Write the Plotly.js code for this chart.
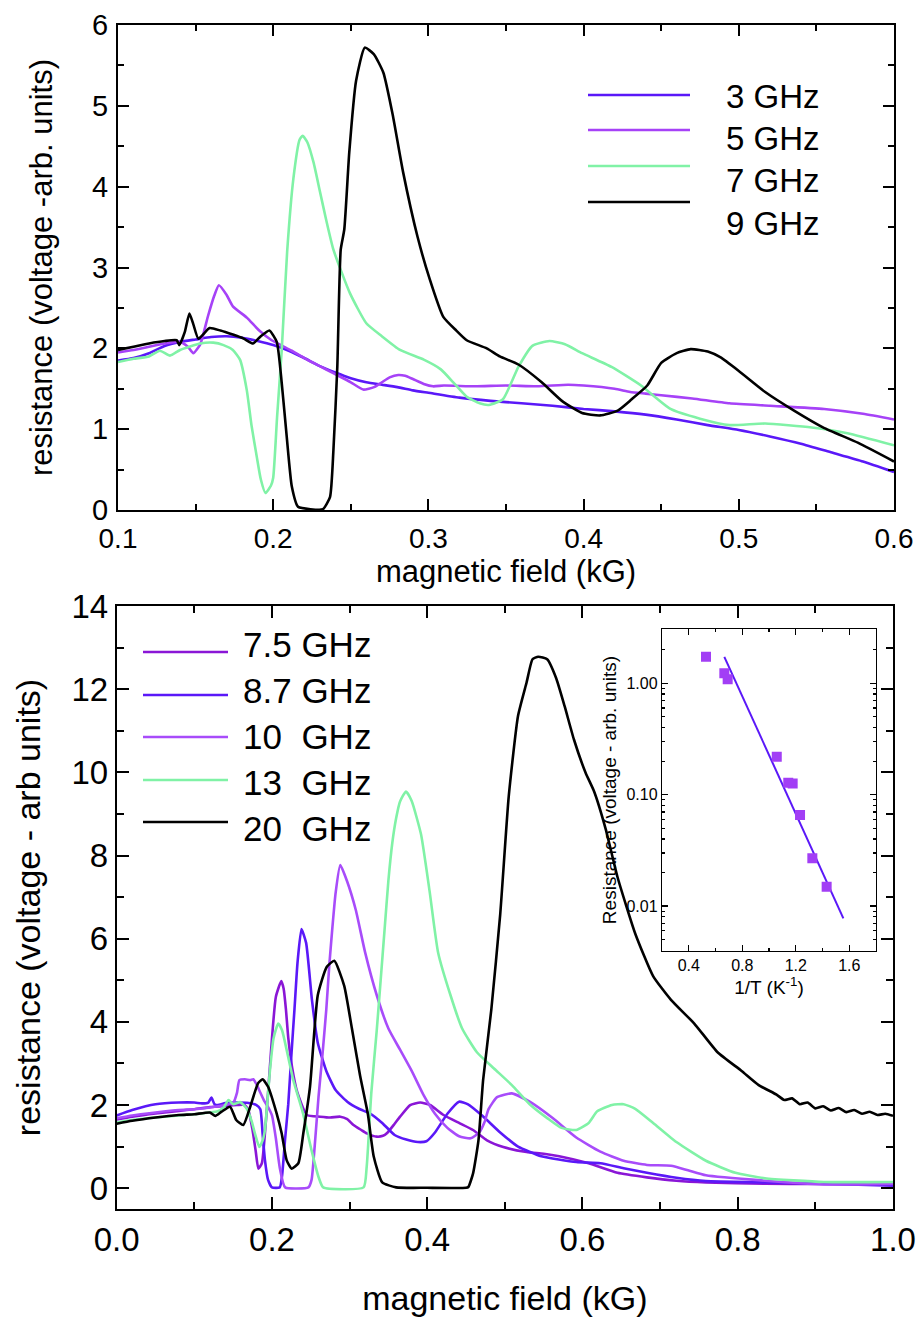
<!DOCTYPE html>
<html>
<head>
<meta charset="utf-8">
<script src="https://cdn.plot.ly/plotly-3.0.1.min.js"></script>
<style>html,body{margin:0;padding:0;background:#fff;}#chart{width:922px;height:1326px;}</style>
</head>
<body>
<div id="chart"></div>
<script>
// ---------- TOP PANEL DATA (magnetic field kG vs resistance) ----------
const topNames = ['3 GHz', '5 GHz', '7 GHz', '9 GHz'];
const x3 = [0.10,0.11,0.12,0.13,0.14,0.15,0.16,0.17,0.18,0.19,0.20,0.21,0.22,0.23,0.24,0.25,0.26,0.27,0.28,0.29,0.30,0.32,0.34,0.36,0.38,0.40,0.42,0.44,0.46,0.48,0.50,0.52,0.54,0.56,0.58,0.60];
const y3 = [1.85,1.88,1.94,2.03,2.08,2.11,2.14,2.15,2.13,2.09,2.04,1.97,1.88,1.78,1.70,1.63,1.58,1.55,1.52,1.48,1.45,1.39,1.35,1.32,1.29,1.25,1.22,1.18,1.12,1.05,0.99,0.91,0.82,0.71,0.60,0.47];
const x5 = [0.10,0.11,0.12,0.13,0.14,0.145,0.1485,0.153,0.158,0.162,0.165,0.170,0.174,0.183,0.191,0.199,0.206,0.212,0.22,0.23,0.239,0.25,0.258,0.265,0.27,0.275,0.2806,0.285,0.29,0.297,0.303,0.31,0.33,0.35,0.37,0.39,0.40,0.42,0.43,0.44,0.45,0.47,0.494,0.52,0.555,0.58,0.60];
const y5 = [1.95,1.98,2.02,2.06,2.08,2.02,1.94,2.05,2.40,2.65,2.78,2.66,2.52,2.38,2.22,2.10,2.03,1.97,1.88,1.78,1.69,1.58,1.49,1.52,1.58,1.64,1.67,1.66,1.62,1.56,1.53,1.54,1.53,1.54,1.53,1.55,1.54,1.50,1.46,1.44,1.42,1.38,1.32,1.29,1.25,1.19,1.12];
const x7 = [0.10,0.11,0.12,0.127,0.1335,0.14,0.153,0.1614,0.168,0.174,0.1786,0.183,0.186,0.1894,0.192,0.195,0.1985,0.2,0.2025,0.2055,0.209,0.213,0.217,0.219,0.222,0.226,0.23,0.234,0.2388,0.2495,0.26,0.27,0.2817,0.297,0.308,0.316,0.3247,0.333,0.339,0.348,0.358,0.367,0.378,0.388,0.399,0.418,0.437,0.456,0.475,0.494,0.517,0.547,0.57,0.60];
const y7 = [1.83,1.87,1.90,1.97,1.91,1.98,2.06,2.07,2.04,1.98,1.86,1.48,1.05,0.66,0.38,0.21,0.30,0.40,1.15,1.98,3.20,4.10,4.58,4.63,4.55,4.30,3.95,3.60,3.22,2.68,2.31,2.15,1.98,1.86,1.74,1.58,1.40,1.32,1.30,1.37,1.77,2.03,2.09,2.05,1.94,1.77,1.54,1.25,1.13,1.05,1.07,1.02,0.95,0.80];
const x9 = [0.10,0.11,0.12,0.13,0.1378,0.1395,0.143,0.146,0.1485,0.1518,0.159,0.166,0.174,0.181,0.187,0.1915,0.1975,0.2023,0.2055,0.2087,0.212,0.216,0.224,0.232,0.2366,0.2388,0.2413,0.2435,0.2458,0.249,0.2534,0.259,0.2648,0.271,0.277,0.2837,0.293,0.3008,0.3096,0.318,0.3247,0.3376,0.346,0.358,0.373,0.386,0.399,0.4106,0.422,0.431,0.441,0.45,0.46,0.469,0.48,0.488,0.50,0.517,0.5356,0.5545,0.577,0.60];
const y9 = [1.98,2.02,2.06,2.09,2.10,2.04,2.20,2.43,2.30,2.12,2.25,2.22,2.17,2.12,2.06,2.14,2.22,2.08,1.57,0.91,0.29,0.04,0.01,0.01,0.16,0.74,1.77,3.22,3.47,4.42,5.31,5.72,5.64,5.41,4.89,4.18,3.38,2.86,2.39,2.22,2.10,2.00,1.90,1.80,1.58,1.35,1.20,1.17,1.23,1.37,1.54,1.82,1.94,1.99,1.96,1.89,1.72,1.46,1.23,1.02,0.83,0.60];

// ---------- BOTTOM PANEL DATA ----------
const botNames = ['7.5 GHz', '8.7 GHz', '10\u00a0 GHz', '13\u00a0 GHz', '20\u00a0 GHz'];
const x75 = [0,0.02,0.05,0.08,0.1,0.12,0.14,0.155,0.165,0.17,0.175,0.179,0.1825,0.187,0.19,0.195,0.2,0.205,0.212,0.215,0.218,0.221,0.226,0.2326,0.245,0.262,0.275,0.288,0.297,0.305,0.315,0.322,0.335,0.343,0.348,0.358,0.365,0.378,0.391,0.4036,0.421,0.442,0.459,0.477,0.498,0.528,0.55,0.57,0.608,0.645,0.683,0.721,0.759,0.835,0.9,1.0];
const y75 = [1.65,1.72,1.80,1.86,1.90,1.95,1.98,2.00,2.00,1.85,1.40,0.90,0.47,0.60,1.10,2.30,3.60,4.60,4.98,4.80,4.30,3.62,2.90,2.31,1.76,1.72,1.70,1.72,1.66,1.52,1.40,1.32,1.24,1.26,1.32,1.55,1.72,2.00,2.06,2.00,1.76,1.56,1.40,1.15,0.99,0.87,0.83,0.77,0.60,0.37,0.26,0.18,0.14,0.11,0.10,0.09];
const x87 = [0,0.02,0.05,0.08,0.1,0.11,0.118,0.122,0.126,0.13,0.14,0.15,0.17,0.18,0.185,0.188,0.191,0.195,0.2,0.21,0.213,0.217,0.221,0.225,0.229,0.233,0.238,0.244,0.2515,0.259,0.27,0.282,0.297,0.312,0.327,0.342,0.358,0.373,0.388,0.399,0.41,0.426,0.441,0.452,0.471,0.494,0.517,0.547,0.592,0.623,0.653,0.683,0.721,0.759,0.835,0.911,1.0];
const y87 = [1.75,1.88,2.02,2.06,2.06,2.04,2.06,2.18,2.02,2.00,2.05,2.06,2.05,2.00,1.90,1.30,0.67,0.20,0.02,0.02,0.30,1.20,2.02,3.20,4.30,5.44,6.23,5.90,4.53,3.50,2.82,2.36,2.08,1.91,1.79,1.57,1.28,1.17,1.11,1.13,1.34,1.79,2.08,2.02,1.74,1.34,1.00,0.77,0.63,0.60,0.48,0.37,0.25,0.17,0.14,0.11,0.06];
const x10 = [0,0.02,0.05,0.08,0.1,0.12,0.14,0.15,0.155,0.158,0.165,0.172,0.176,0.18,0.185,0.19,0.195,0.2,0.205,0.21,0.217,0.247,0.251,0.255,0.26,0.265,0.27,0.274,0.278,0.282,0.288,0.297,0.308,0.32,0.335,0.35,0.365,0.38,0.395,0.41,0.426,0.441,0.456,0.467,0.474,0.479,0.49,0.509,0.532,0.562,0.592,0.623,0.653,0.683,0.714,0.736,0.759,0.835,0.911,1.0];
const y10 = [1.68,1.75,1.82,1.88,1.90,1.94,2.00,2.05,2.30,2.60,2.62,2.60,2.62,2.50,2.30,2.10,1.95,1.75,1.20,0.50,0.02,0.02,0.20,1.00,2.20,3.20,4.30,5.40,6.30,7.10,7.77,7.37,6.69,5.67,4.64,3.84,3.33,2.82,2.25,1.79,1.45,1.25,1.20,1.34,1.60,1.90,2.19,2.28,2.08,1.68,1.22,0.88,0.66,0.56,0.54,0.43,0.31,0.18,0.09,0.10];
const x13 = [0,0.02,0.05,0.08,0.1,0.12,0.13,0.138,0.144,0.15,0.159,0.168,0.174,0.178,0.1837,0.188,0.191,0.1975,0.202,0.208,0.213,0.219,0.2275,0.24,0.251,0.26,0.266,0.318,0.322,0.328,0.335,0.34,0.345,0.35,0.355,0.36,0.365,0.3727,0.38,0.392,0.403,0.414,0.43,0.445,0.464,0.486,0.509,0.532,0.555,0.573,0.592,0.608,0.619,0.638,0.653,0.668,0.691,0.721,0.759,0.797,0.835,0.911,1.0];
const y13 = [1.58,1.64,1.70,1.75,1.78,1.82,1.85,1.95,2.12,2.02,2.07,1.90,1.60,1.32,0.99,1.15,1.41,2.85,3.60,3.96,3.80,3.32,2.60,1.80,0.91,0.27,0.02,0.02,0.51,2.30,3.80,5.00,6.20,7.40,8.30,8.90,9.30,9.54,9.31,8.51,7.15,5.67,4.64,3.84,3.27,2.88,2.48,2.02,1.68,1.45,1.40,1.57,1.85,2.00,2.02,1.91,1.57,1.11,0.66,0.37,0.24,0.15,0.15];
const x20 = [0,0.02,0.05,0.08,0.1,0.12,0.127,0.135,0.146,0.154,0.163,0.172,0.182,0.188,0.195,0.206,0.2125,0.219,0.2254,0.234,0.2404,0.249,0.259,0.2705,0.2803,0.293,0.303,0.3136,0.3235,0.331,0.342,0.36,0.40,0.45,0.453,0.459,0.466,0.472,0.4826,0.494,0.505,0.517,0.528,0.5356,0.543,0.5545,0.566,0.577,0.589,0.604,0.615,0.63,0.645,0.668,0.691,0.714,0.744,0.774,0.805,0.827,0.85,0.86,0.87,0.88,0.89,0.90,0.91,0.92,0.93,0.94,0.95,0.96,0.97,0.98,0.99,1.0];
const y20 = [1.55,1.62,1.70,1.76,1.78,1.82,1.74,1.84,1.96,1.64,1.52,1.96,2.52,2.62,2.44,1.80,1.32,0.67,0.47,0.60,1.32,2.44,4.64,5.32,5.47,4.87,3.84,2.70,1.79,0.77,0.14,0.02,0.01,0.01,0.03,0.35,1.15,2.60,4.30,6.58,9.42,11.36,12.16,12.72,12.78,12.72,12.27,11.59,10.79,9.99,9.54,8.63,7.49,6.12,5.10,4.53,3.96,3.27,2.82,2.48,2.25,2.12,2.16,2.02,2.06,1.92,1.97,1.87,1.93,1.83,1.88,1.79,1.84,1.76,1.79,1.74];

// ---------- INSET DATA (1/T vs resistance, log) ----------
const invT = [0.529,0.666,0.691,1.058,1.144,1.177,1.232,1.324,1.431];
const resist = [1.73,1.23,1.09,0.219,0.128,0.126,0.0657,0.0268,0.0149];
const fitX = [0.666,1.556];
const fitY = [1.73,0.00776];
const insetMajorTicks = [0.01, 0.1, 1];
const insetMajorText = ['0.01', '0.10', '1.00'];

// ---------- STYLE ----------
const topColors = ['#5a18f8', '#a642f7', '#80f2a6', '#000000'];
const botColors = ['#8a16d6', '#5a18f8', '#a84cfa', '#80f2a6', '#000000'];
const FONT = 'Liberation Sans, Arial, Helvetica, sans-serif';
const W = 922, H = 1326;
const px = v => v / W;
const py = v => 1 - v / H;

// log minor tick positions (2..9 per decade) for the inset
const logMinor = [];
[0.001, 0.01, 0.1, 1].forEach(d => { for (let k = 2; k <= 9; k++) logMinor.push(+(d * k).toPrecision(3)); });

const LINE = (c) => ({color: c, width: 2.6, shape: 'spline', smoothing: 0.5});
const traces = [];
const topX = [x3, x5, x7, x9], topY = [y3, y5, y7, y9];
topNames.forEach((n, i) => traces.push({x: topX[i], y: topY[i], name: n, type: 'scatter', mode: 'lines',
  line: LINE(topColors[i]), xaxis: 'x', yaxis: 'y', showlegend: false}));
const botX = [x75, x87, x10, x13, x20], botY = [y75, y87, y10, y13, y20];
botNames.forEach((n, i) => traces.push({x: botX[i], y: botY[i], name: n, type: 'scatter', mode: 'lines',
  line: LINE(botColors[i]), xaxis: 'x2', yaxis: 'y2', showlegend: false}));
traces.push({x: fitX, y: fitY, name: 'fit', type: 'scatter', mode: 'lines', line: {color: '#5a18f8', width: 2},
  xaxis: 'x3', yaxis: 'y3', showlegend: false});
traces.push({x: invT, y: resist, name: 'data', type: 'scatter', mode: 'markers',
  marker: {symbol: 'square', size: 10, color: '#a23ef5'}, xaxis: 'x3', yaxis: 'y3', showlegend: false});

function ax(o) {
  return Object.assign({
    showline: true, linecolor: '#000', linewidth: 2, mirror: 'allticks',
    ticks: 'inside', tickcolor: '#000', tickwidth: 2, showgrid: false, zeroline: false,
    automargin: false, fixedrange: true
  }, o);
}

// legend (drawn as layout shapes + text)
const shapes = [], annotations = [];
const topLegLineY = [95, 130, 166, 202], topLegTextY = [97, 139, 181, 223];
topNames.forEach((n, i) => {
  shapes.push({type: 'line', xref: 'paper', yref: 'paper', x0: px(588), x1: px(690),
    y0: py(topLegLineY[i]), y1: py(topLegLineY[i]), line: {color: topColors[i], width: 2.6}});
  annotations.push({xref: 'paper', yref: 'paper', x: px(724), y: py(topLegTextY[i]), text: n,
    showarrow: false, xanchor: 'left', yanchor: 'middle', font: {family: FONT, size: 33, color: '#000'}});
});
const botLegLineY = [652, 695, 737, 780, 822], botLegTextY = [644, 690, 736, 782, 828];
botNames.forEach((n, i) => {
  shapes.push({type: 'line', xref: 'paper', yref: 'paper', x0: px(143), x1: px(228),
    y0: py(botLegLineY[i]), y1: py(botLegLineY[i]), line: {color: botColors[i], width: 2.6}});
  annotations.push({xref: 'paper', yref: 'paper', x: px(241), y: py(botLegTextY[i]), text: n,
    showarrow: false, xanchor: 'left', yanchor: 'middle', font: {family: FONT, size: 35, color: '#000'}});
});

const layout = {
  width: W, height: H, margin: {l: 0, r: 0, t: 0, b: 0},
  paper_bgcolor: '#fff', plot_bgcolor: 'rgba(0,0,0,0)',
  font: {family: FONT, color: '#000'},
  showlegend: false,
  xaxis: ax({domain: [px(118), px(894)], range: [0.1, 0.6], anchor: 'y', tick0: 0.1, dtick: 0.1, tickformat: '.1f',
    ticklen: 11, minor: {dtick: 0.05, ticks: 'inside', ticklen: 6, tickwidth: 2, tickcolor: '#000'},
    tickfont: {size: 28}, ticklabelstandoff: 2, title: {text: 'magnetic field (kG)', font: {size: 31}, standoff: 8}}),
  yaxis: ax({domain: [py(510), py(25)], range: [0, 6], anchor: 'x', dtick: 1,
    ticklen: 11, minor: {dtick: 0.5, ticks: 'inside', ticklen: 6, tickwidth: 2, tickcolor: '#000'},
    tickfont: {size: 29}, ticklabelstandoff: 2, title: {text: 'resistance (voltage -arb. units)', font: {size: 31}, standoff: 30}}),
  xaxis2: ax({domain: [px(116.7), px(893)], range: [0, 1], anchor: 'y2', tick0: 0, dtick: 0.2, tickformat: '.1f',
    ticklen: 12, minor: {dtick: 0.1, ticks: 'inside', ticklen: 7, tickwidth: 2, tickcolor: '#000'},
    tickfont: {size: 33}, title: {text: 'magnetic field (kG)', font: {size: 34}, standoff: 30}}),
  yaxis2: ax({domain: [py(1209), py(606)], range: [-0.5, 14], anchor: 'x2', tick0: 0, dtick: 2,
    ticklen: 12, minor: {dtick: 1, ticks: 'inside', ticklen: 7, tickwidth: 2, tickcolor: '#000'},
    tickfont: {size: 33}, title: {text: 'resistance (voltage - arb units)', font: {size: 34}, standoff: 20}}),
  xaxis3: ax({domain: [px(662), px(876)], range: [0.2, 1.8], anchor: 'y3', tick0: 0.4, dtick: 0.4, tickformat: '.1f',
    linewidth: 1.2, tickwidth: 1.2, ticklen: 6, minor: {dtick: 0.2, ticks: 'inside', ticklen: 3, tickwidth: 1.2, tickcolor: '#000'},
    tickfont: {size: 16}, title: {text: '1/T (K<sup>-1</sup>)', font: {size: 19}, standoff: 2}}),
  yaxis3: ax({domain: [py(950.7), py(629.3)], type: 'log', range: [-2.401, 0.485], anchor: 'x3',
    tickmode: 'array', tickvals: insetMajorTicks, ticktext: insetMajorText,
    linewidth: 1.2, tickwidth: 1.2, ticklen: 6,
    minor: {tickmode: 'array', tickvals: logMinor, ticks: 'inside', ticklen: 3, tickwidth: 1.2, tickcolor: '#000'},
    tickfont: {size: 16}, title: {text: 'Resistance (voltage - arb. units)', font: {size: 19}, standoff: 4}}),
  shapes: shapes,
  annotations: annotations
};

Plotly.newPlot('chart', traces, layout, {staticPlot: true, displayModeBar: false});
</script>
</body>
</html>
